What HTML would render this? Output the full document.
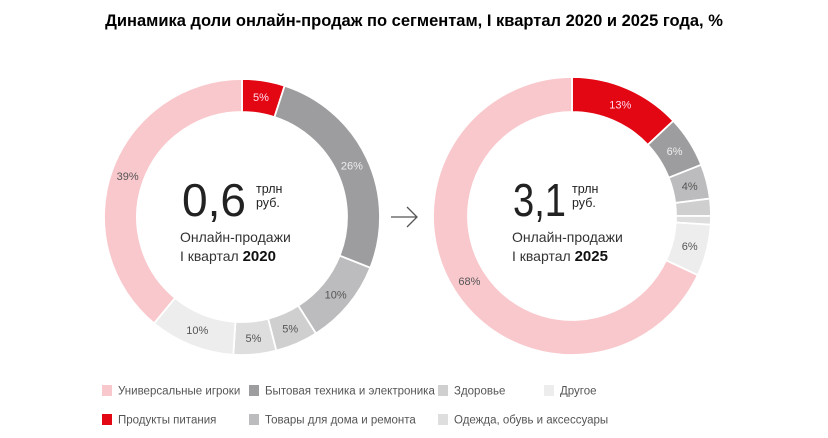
<!DOCTYPE html>
<html><head><meta charset="utf-8"><style>
body{margin:0;background:#fff;width:828px;height:438px;overflow:hidden;font-family:"Liberation Sans",sans-serif}
svg{display:block}
</style></head><body>
<svg id="chart" width="828" height="438">
<text x="414" y="26" text-anchor="middle" font-size="16.5" font-weight="bold" fill="#000">Динамика доли онлайн-продаж по сегментам, I квартал 2020 и 2025 года, %</text>
<g id="d1"></g>
<g id="d2"></g>
<g stroke="#555" stroke-width="1.3" fill="none"><path d="M391 217H417M407 207L417 217L407 227"/></g>
<g fill="#222">
<text x="182" y="216" font-size="46" textLength="64" lengthAdjust="spacingAndGlyphs">0,6</text>
<text x="256" y="193" font-size="12.5">трлн</text>
<text x="256" y="207" font-size="12.5">руб.</text>
<text x="180" y="242" font-size="14" fill="#333">Онлайн-продажи</text>
<text x="180" y="261" font-size="14" fill="#333">I квартал <tspan font-weight="bold" font-size="15" fill="#111">2020</tspan></text>
</g>
<g fill="#222">
<text x="513" y="216" font-size="46" textLength="53" lengthAdjust="spacingAndGlyphs">3,1</text>
<text x="572" y="193" font-size="12.5">трлн</text>
<text x="572" y="207" font-size="12.5">руб.</text>
<text x="512" y="242" font-size="14" fill="#333">Онлайн-продажи</text>
<text x="512" y="261" font-size="14" fill="#333">I квартал <tspan font-weight="bold" font-size="15" fill="#111">2025</tspan></text>
</g>
<g id="legend" font-size="11.5" fill="#555"></g>
</svg>
<script>
const categories=["Продукты питания","Бытовая техника и электроника","Товары для дома и ремонта","Здоровье","Одежда, обувь и аксессуары","Другое","Универсальные игроки"];
const colors=["#e30613","#9d9d9f","#bcbcbe","#cfcfd0","#dedede","#ededed","#f9c8cc"];
const values2020=[5,26,10,5,5,10,39];
const values2025=[13,6,4,2,1,6,68];
const labels2020=["5%","26%","10%","5%","5%","10%","39%"];
const labels2025=["13%","6%","4%","","","6%","68%"];
const NS="http://www.w3.org/2000/svg";
function donut(g,cx,cy,R,r,vals,labs){
  const tot=vals.reduce((a,b)=>a+b,0);let a0=0;
  vals.forEach((v,i)=>{
    const a1=a0+v/tot*2*Math.PI;
    const p=(a,rr)=>[cx+rr*Math.sin(a),cy-rr*Math.cos(a)];
    const [x1,y1]=p(a0,R),[x2,y2]=p(a1,R),[x3,y3]=p(a1,r),[x4,y4]=p(a0,r);
    const lg=(a1-a0)>Math.PI?1:0;
    const path=document.createElementNS(NS,"path");
    path.setAttribute("d",`M${x1},${y1}A${R},${R} 0 ${lg} 1 ${x2},${y2}L${x3},${y3}A${r},${r} 0 ${lg} 0 ${x4},${y4}Z`);
    path.setAttribute("fill",colors[i]);path.setAttribute("stroke","#fff");path.setAttribute("stroke-width","1.8");
    
    
    g.appendChild(path);
    if(labs[i]){const [lx,ly]=p((a0+a1)/2,(R+r)/2);
      const t=document.createElementNS(NS,"text");
      t.setAttribute("x",lx);t.setAttribute("y",ly+4);t.setAttribute("text-anchor","middle");t.setAttribute("font-size","11");
      t.setAttribute("fill",i==0?"#fde":(i==1?"#eee":"#555"));t.textContent=labs[i];
      
      
      g.appendChild(t);}
    a0=a1;});
}
donut(document.getElementById("d1"),242,217,138,105,values2020,labels2020);
donut(document.getElementById("d2"),572,216,139,104,values2025,labels2025);
const lx=[102,249,438,544],ly=[390,419];
const lg=document.getElementById("legend");
[[6,1,3,5],[0,2,4]].forEach((row,ri)=>row.forEach((ci,k)=>{
  const r=document.createElementNS(NS,"rect");
  r.setAttribute("x",lx[k]);r.setAttribute("y",ly[ri]-5);r.setAttribute("width",10);r.setAttribute("height",11);r.setAttribute("fill",colors[ci]);
  
  
  lg.appendChild(r);
  const t=document.createElementNS(NS,"text");
  t.setAttribute("x",lx[k]+16);t.setAttribute("y",ly[ri]+4.5);t.textContent=categories[ci];
  
  
  lg.appendChild(t);
}));
</script>
</body></html>
